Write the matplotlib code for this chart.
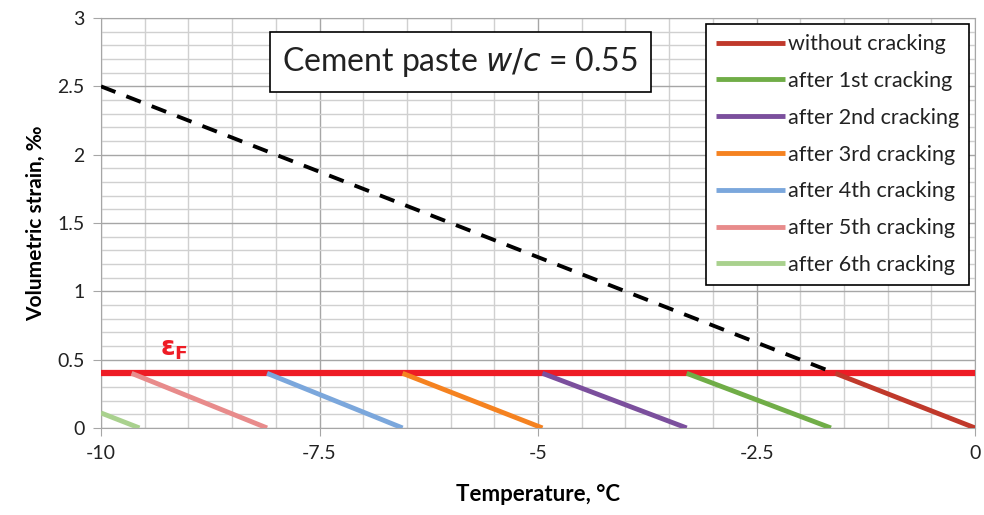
import numpy as np
import matplotlib.pyplot as plt
from matplotlib.ticker import MultipleLocator, FormatStrFormatter

# dashed black line (free strain) and the red crack threshold
free_T = [-10, -1.6]
free_strain = [2.5, 0.4]
eps_F = 0.4

# cracking segments: (T start, strain start) -> (T end, strain end)
labels = ['without cracking', 'after 1st cracking', 'after 2nd cracking',
          'after 3rd cracking', 'after 4th cracking', 'after 5th cracking',
          'after 6th cracking']
seg_T = [[-1.6, 0.0], [-3.3, -1.65], [-4.95, -3.3], [-6.55, -4.95],
         [-8.1, -6.55], [-9.65, -8.1], [-10.0, -9.56]]
seg_strain = [[0.4, 0.0], [0.4, 0.0], [0.4, 0.0], [0.4, 0.0],
              [0.4, 0.0], [0.4, 0.0], [0.11, 0.0]]
colors = ['#c0392b', '#70ad47', '#7b4f9d', '#f58220', '#7ba7dc',
          '#e88b8b', '#a9d18e']

plt.rcParams['font.family'] = ['Lato', 'DejaVu Sans']

fig = plt.figure(figsize=(9.84, 5.15), dpi=100)
ax = fig.add_axes([0.1026, 0.169, 0.8884, 0.796])

ax.set_xlim(-10, 0)
ax.set_ylim(0, 3)
ax.xaxis.set_major_locator(MultipleLocator(2.5))
ax.xaxis.set_minor_locator(MultipleLocator(0.5))
ax.yaxis.set_major_locator(MultipleLocator(0.5))
ax.yaxis.set_minor_locator(MultipleLocator(0.1))
ax.xaxis.set_major_formatter(FormatStrFormatter('%g'))
ax.yaxis.set_major_formatter(FormatStrFormatter('%g'))
ax.grid(True, which='minor', color='#d0d0d0', linewidth=1.0)
ax.grid(True, which='major', color='#a6a6a6', linewidth=1.0)
ax.set_axisbelow(True)
for s in ax.spines.values():
    s.set_color('#a6a6a6')
ax.tick_params(which='major', direction='out', length=6, color='#a6a6a6',
               labelsize=14, labelcolor='#222222', pad=6)
ax.tick_params(which='minor', length=0)

ax.axhline(eps_F, color='#ee1c25', linewidth=4.5, zorder=3)
ax.plot(free_T, free_strain, color='black', linewidth=2.8,
        dashes=(4, 3), zorder=4)

handles = []
for T, s, c, lab in zip(seg_T, seg_strain, colors, labels):
    h, = ax.plot(T, s, color=c, linewidth=3.5, label=lab, zorder=4,
                 solid_capstyle='butt')
    handles.append(h)

ax.text(-9.33, 0.48, r'$\mathbf{\varepsilon}_\mathbf{F}$', color='#ee1c25',
        fontsize=19, fontweight='bold', ha='left', va='bottom')

ax.text(-5.89, 2.68, 'Cement paste $\\it{w/c}$ = 0.55', fontsize=23,
        ha='center', va='center', color='#222222',
        bbox=dict(boxstyle='square,pad=0.4', facecolor='white',
                  edgecolor='black', linewidth=1.2))

leg = ax.legend(handles=handles, loc='upper right', fontsize=15.5,
                frameon=True, fancybox=False, handlelength=3.2,
                handletextpad=0.15, labelspacing=0.78,
                borderaxespad=0.3, borderpad=0.45)
leg.get_frame().set_edgecolor('black')
leg.get_frame().set_linewidth(1.2)
leg.get_frame().set_alpha(1)
for t in leg.get_texts():
    t.set_color('#222222')

ax.set_xlabel('Temperature, °C', fontsize=16, fontweight='bold', labelpad=16)
ax.set_ylabel('Volumetric strain, ‰', fontsize=15, fontweight='bold',
              labelpad=8)

fig.savefig('out.png', dpi=100)
